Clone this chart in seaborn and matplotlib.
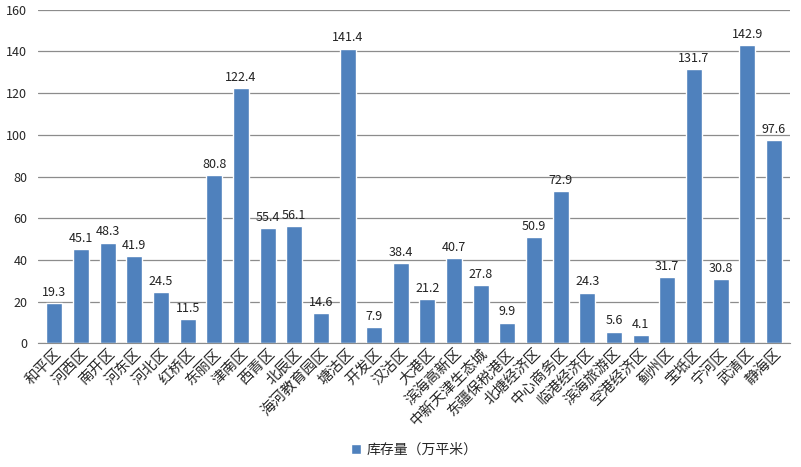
import matplotlib
matplotlib.use("Agg")
import matplotlib.pyplot as plt
import seaborn as sns
import pandas as pd

districts = ["和平区", "河西区", "南开区", "河东区", "河北区", "红桥区", "东丽区", "津南区",
             "西青区", "北辰区", "海河教育园区", "塘沽区", "开发区", "汉沽区", "大港区",
             "滨海高新区", "中新天津生态城", "东疆保税港区", "北塘经济区", "中心商务区",
             "临港经济区", "滨海旅游区", "空港经济区", "蓟州区", "宝坻区", "宁河区",
             "武清区", "静海区"]
stock = [19.3, 45.1, 48.3, 41.9, 24.5, 11.5, 80.8, 122.4, 55.4, 56.1, 14.6, 141.4,
         7.9, 38.4, 21.2, 40.7, 27.8, 9.9, 50.9, 72.9, 24.3, 5.6, 4.1, 31.7, 131.7,
         30.8, 142.9, 97.6]
series_name = "库存量（万平米）"

df = pd.DataFrame({"district": districts, "stock": stock, "series": series_name})

sns.set_style("white")
plt.rcParams['font.family'] = ['Noto Sans CJK SC', 'DejaVu Sans']
plt.rcParams['axes.unicode_minus'] = False

fig = plt.figure(figsize=(8.01, 4.67), dpi=100)
ax = fig.add_axes([0.048, 0.265, 0.938, 0.714])

sns.barplot(data=df, x="district", y="stock", hue="series",
            palette=["#4F81BD"], width=0.6, ax=ax, saturation=1)

for i, v in enumerate(stock):
    ax.text(i, v + 2, f"{v}", ha="center", va="bottom", fontsize=9, color="#222222")

ax.set_ylim(0, 160)
ax.set_yticks(range(0, 161, 20))
ax.set_xlim(-0.6, len(districts) - 0.4)
ax.yaxis.grid(True, color="#8c8c8c", linewidth=0.9)
ax.set_axisbelow(True)
for s in ["top", "right", "left"]:
    ax.spines[s].set_visible(False)
ax.spines["bottom"].set_color("#8c8c8c")
ax.tick_params(axis="y", length=0, labelsize=9, pad=8)
ax.tick_params(axis="x", length=0, labelsize=10.5, pad=2)
ax.set_xticks(range(len(districts)))
ax.set_xticklabels(districts, rotation=45, ha="right", rotation_mode="anchor")
ax.set_xlabel("")
ax.set_ylabel("")

ax.legend(loc="center", bbox_to_anchor=(0.5, -0.32), frameon=False, fontsize=10,
          handlelength=0.7, handleheight=0.7, handletextpad=0.4)

fig.savefig("out.png", dpi=100)
